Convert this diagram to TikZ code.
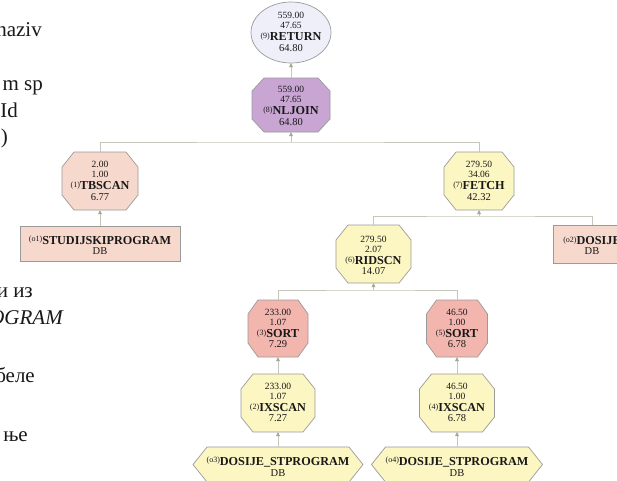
\documentclass[tikz,border=0pt]{standalone}
\usepackage{fontspec}
\setmainfont{Liberation Serif}
\usetikzlibrary{shapes.geometric,calc,arrows.meta}

\definecolor{edgegray}{HTML}{C4C7BA}
\definecolor{tipgray}{HTML}{A3A891}
\definecolor{bordergray}{HTML}{9A9A9A}
\definecolor{retfill}{HTML}{EFEFFA}
\definecolor{joinfill}{HTML}{C9A5D3}
\definecolor{tbfill}{HTML}{F6D8CC}
\definecolor{yelfill}{HTML}{FCF6C2}
\definecolor{sortfill}{HTML}{F3B6AF}

% operator label pieces
\newcommand\opidx[1]{\raisebox{2.2pt}{\fontsize{8}{8}\selectfont(#1)}}
\newcommand\opname[2]{{\fontsize{12.2}{12}\selectfont\opidx{#1}\textbf{#2}}}
\newcommand\opcost[1]{{\fontsize{10.5}{12}\selectfont #1}}

% octagon around a named box: name, chamfer x, chamfer y
\newcommand\octpath[3]{($(#1.north west)+(#2,0)$) -- ($(#1.north east)+(-#2,0)$)
  -- ($(#1.north east)+(0,-#3)$) -- ($(#1.south east)+(0,#3)$)
  -- ($(#1.south east)+(-#2,0)$) -- ($(#1.south west)+(#2,0)$)
  -- ($(#1.south west)+(0,#3)$) -- ($(#1.north west)+(0,-#3)$) -- cycle}
% pointed hexagon around a named box: name, indent
\newcommand\hexpath[2]{(#1.west) -- ($(#1.north west)+(#2,0)$) -- ($(#1.north east)+(-#2,0)$)
  -- (#1.east) -- ($(#1.south east)+(-#2,0)$) -- ($(#1.south west)+(#2,0)$) -- cycle}

\begin{document}
\begin{tikzpicture}[x=1pt,y=1pt,
  shapebox/.style 2 args={rectangle,inner sep=0pt,outer sep=0pt,minimum width=#1,minimum height=#2},
  outline/.style={draw=bordergray,line width=0.7pt},
  optext/.style={align=center,inner sep=0pt,font=\fontsize{9.5}{10}\selectfont,text=black!90},
  margintext/.style={font=\fontsize{21}{25}\selectfont,inner sep=0pt,text=black!90},
  link/.style={draw=edgegray,line width=0.8pt},
  uplink/.style={link,-{Triangle[length=4pt,width=3.6pt,color=tipgray,fill=tipgray]}}
]
\path[use as bounding box,fill=white] (0,0) rectangle (617,-480);
\clip (0,0) rectangle (617,-480);

% running text of the page beside the plan
\node[margintext,anchor=base east] (t1) at (42,-36) {naziv};
\node[margintext,anchor=base east] (t2) at (43,-90) {m sp};
\node[margintext,anchor=base east] (t3) at (18,-117) {Id};
\node[margintext,anchor=base east] (t4) at (8,-143) {)};
\node[margintext,anchor=base east] (t5) at (33,-297) {и из};
\node[margintext,anchor=base east] (t6) at (63,-324) {\itshape OGRAM};
\node[margintext,anchor=base east] (t7) at (35,-382) {беле};
\node[margintext,anchor=base east] (t8) at (28,-441) {ње};

% operator boxes
\node[ellipse,outline,fill=retfill,minimum width=80,minimum height=61,inner sep=0pt,outer sep=0pt] (ret) at (291,-32.5) {};
\node[shapebox={78}{54}] (nlj) at (291,-105) {};
\node[shapebox={76}{58}] (tbs) at (100,-181) {};
\node[shapebox={70}{58}] (fet) at (479,-181) {};
\node[shapebox={75}{58}] (rid) at (373.5,-254) {};
\node[shapebox={60}{57}] (srt3) at (278,-328.5) {};
\node[shapebox={61}{57}] (srt5) at (457,-328.5) {};
\node[shapebox={74}{58}] (ixs2) at (278,-403) {};
\node[shapebox={75}{58}] (ixs4) at (457,-403) {};
\node[shapebox={160}{35},outline,fill=tbfill] (stp) at (100,-243.5) {};
\node[shapebox={78}{38},outline,fill=tbfill] (dos) at (592,-244) {};
\node[shapebox={170}{35}] (ds3) at (278,-464.5) {};
\node[shapebox={171}{35}] (ds4) at (457,-464.5) {};

\draw[outline,fill=joinfill] \octpath{nlj}{12}{13};
\draw[outline,fill=tbfill] \octpath{tbs}{12}{15};
\draw[outline,fill=yelfill] \octpath{fet}{12}{15};
\draw[outline,fill=yelfill] \octpath{rid}{12}{15};
\draw[outline,fill=sortfill] \octpath{srt3}{10}{14};
\draw[outline,fill=sortfill] \octpath{srt5}{10}{14};
\draw[outline,fill=yelfill] \octpath{ixs2}{12}{15};
\draw[outline,fill=yelfill] \octpath{ixs4}{12}{15};
\draw[outline,fill=yelfill] \hexpath{ds3}{14};
\draw[outline,fill=yelfill] \hexpath{ds4}{14};

% labels
\node[optext] (ret-t) at ($(ret)+(0,0.5)$) {559.00\\47.65\\[2pt]\opname{9}{RETURN}\\[0.5pt]\opcost{64.80}};
\node[optext] (nlj-t) at ($(nlj)+(0,-1)$) {559.00\\47.65\\[2pt]\opname{8}{NLJOIN}\\[0.5pt]\opcost{64.80}};
\node[optext] (tbs-t) at ($(tbs)+(0,0)$) {2.00\\1.00\\[2pt]\opname{1}{TBSCAN}\\[0.5pt]\opcost{6.77}};
\node[optext] (fet-t) at ($(fet)+(0,0)$) {279.50\\34.06\\[2pt]\opname{7}{FETCH}\\[0.5pt]\opcost{42.32}};
\node[optext] (rid-t) at ($(rid)+(0,-1.5)$) {279.50\\2.07\\[2pt]\opname{6}{RIDSCN}\\[0.5pt]\opcost{14.07}};
\node[optext] (srt3-t) at ($(srt3)+(0,0)$) {233.00\\1.07\\[2pt]\opname{3}{SORT}\\[0.5pt]\opcost{7.29}};
\node[optext] (srt5-t) at ($(srt5)+(0,0)$) {46.50\\1.00\\[2pt]\opname{5}{SORT}\\[0.5pt]\opcost{6.78}};
\node[optext] (ixs2-t) at ($(ixs2)+(0,0.5)$) {233.00\\1.07\\[2pt]\opname{2}{IXSCAN}\\[0.5pt]\opcost{7.27}};
\node[optext] (ixs4-t) at ($(ixs4)+(0,0.5)$) {46.50\\1.00\\[2pt]\opname{4}{IXSCAN}\\[0.5pt]\opcost{6.78}};
\node[optext] (stp-t) at ($(stp)+(0,-1.5)$) {\opname{o1}{STUDIJSKIPROGRAM}\\\opcost{DB}};
\node[optext] (dos-t) at ($(dos)+(0,-1.5)$) {\opname{o2}{DOSIJE}\\\opcost{DB}};
\node[optext] (ds3-t) at ($(ds3)+(0,-2)$) {\opname{o3}{DOSIJE\_STPROGRAM}\\[1pt]\opcost{DB}};
\node[optext] (ds4-t) at ($(ds4)+(0,-2)$) {\opname{o4}{DOSIJE\_STPROGRAM}\\[1pt]\opcost{DB}};

% data flow links
\coordinate (j8) at (291,-142);
\coordinate (j7) at (479,-216);
\coordinate (j6) at (373.5,-290);
\draw[uplink] (nlj.north) -- (ret.south);
\draw[link] (tbs.north) |- (j8) -| (fet.north);
\draw[uplink] (j8) -- (nlj.south);
\draw[uplink] (stp.north) -- (tbs.south);
\draw[link] (rid.north) |- (j7) -| (dos.north);
\draw[uplink] (j7) -- (fet.south);
\draw[link] (srt3.north) |- (j6) -| (srt5.north);
\draw[uplink] (j6) -- (rid.south);
\draw[uplink] (ixs2.north) -- (srt3.south);
\draw[uplink] (ixs4.north) -- (srt5.south);
\draw[uplink] (ds3.north) -- (ixs2.south);
\draw[uplink] (ds4.north) -- (ixs4.south);
\end{tikzpicture}
\end{document}
